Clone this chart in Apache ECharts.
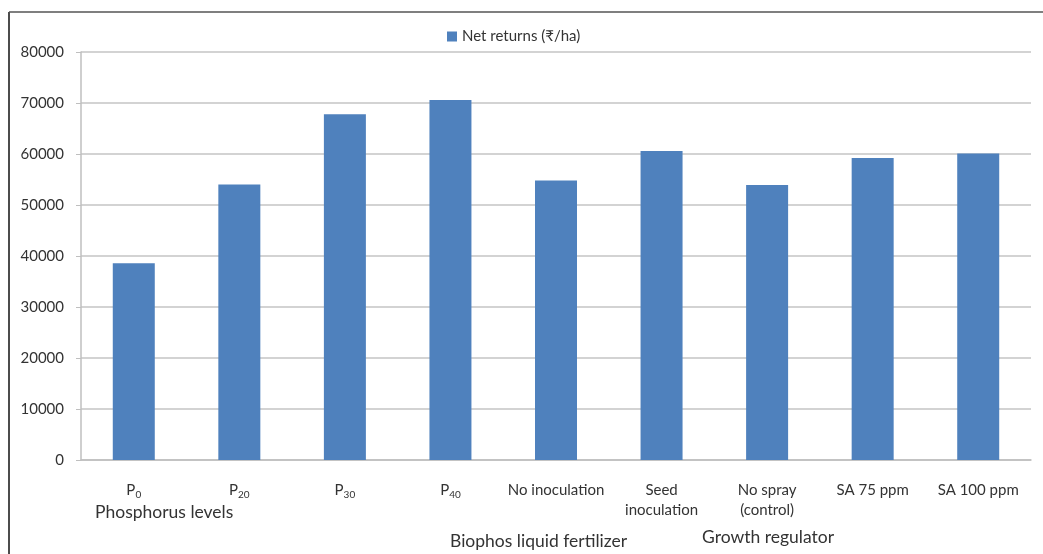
<!DOCTYPE html>
<html>
<head>
<meta charset="utf-8">
<style>
  html, body { margin: 0; padding: 0; background: #fff; }
  #chart { width: 1043px; height: 554px; }
</style>
<script src="https://cdn.jsdelivr.net/npm/echarts@6/dist/echarts.min.js"></script>
</head>
<body>
<div id="chart"></div>
<script>
// categories and values
var categories = ['P\u2080', 'P\u2082\u2080', 'P\u2083\u2080', 'P\u2084\u2080', 'No inoculation',
  'Seed\ninoculation', 'No spray\n(control)', 'SA 75 ppm', 'SA 100 ppm'];
var netReturns = [38600, 54000, 67800, 70600, 54800, 60600, 53900, 59200, 60100];
var groupLabels = ['Phosphorus levels', 'Biophos liquid fertilizer', 'Growth regulator'];
var seriesName = 'Net returns (\u20b9/ha)';

var myChart = echarts.init(document.getElementById('chart'));

var font = 'Lato, "Open Sans", sans-serif';
var subDigits = '\u2080\u2081\u2082\u2083\u2084\u2085\u2086\u2087\u2088\u2089';

// turn "P₂₀" into rich text so the subscript is drawn small and lowered
function catLabel(v) {
  var m = v.match(/^P([\u2080-\u2089]+)$/);
  if (!m) return v;
  var d = '';
  for (var i = 0; i < m[1].length; i++) d += subDigits.indexOf(m[1][i]);
  return '{p|P}{s|' + d + '}';
}

var option = {
  animation: false,
  textStyle: { fontFamily: font },
  legend: {
    data: [seriesName],
    left: 442,
    top: 24,
    icon: 'rect',
    itemWidth: 10,
    itemHeight: 10,
    itemGap: 5,
    textStyle: { fontFamily: font, fontSize: 15, color: '#333' }
  },
  grid: { left: 81, right: 12, top: 52, bottom: 94 },
  xAxis: {
    type: 'category',
    data: categories,
    axisLine: { lineStyle: { color: '#bfbfbf', width: 1.5 } },
    axisTick: { length: 5, lineStyle: { color: '#bfbfbf' } },
    axisLabel: {
      interval: 0,
      margin: 20,
      fontFamily: font,
      fontSize: 15,
      lineHeight: 20,
      color: '#333',
      formatter: catLabel,
      rich: {
        p: { fontFamily: font, fontSize: 15, lineHeight: 20, color: '#333' },
        s: { fontFamily: font, fontSize: 10, lineHeight: 13, verticalAlign: 'bottom', color: '#333' }
      }
    }
  },
  yAxis: {
    type: 'value',
    min: 0,
    max: 80000,
    interval: 10000,
    axisLine: { show: true, lineStyle: { color: '#bfbfbf', width: 1.5 } },
    axisTick: { show: true, length: 5, lineStyle: { color: '#bfbfbf' } },
    axisLabel: {
      margin: 17,
      fontFamily: font,
      fontSize: 15,
      color: '#333',
      formatter: function (v) { return String(v); }
    },
    splitLine: { lineStyle: { color: '#c4c4c4', width: 1.5 } }
  },
  series: [{
    name: seriesName,
    type: 'bar',
    data: netReturns,
    barWidth: 42,
    itemStyle: { color: '#4f81bd' }
  }],
  graphic: [
    // frame of the original figure
    { type: 'line', shape: { x1: 9, y1: 12, x2: 9, y2: 554 }, style: { stroke: '#111', lineWidth: 1.5 } },
    { type: 'line', shape: { x1: 9, y1: 12, x2: 1043, y2: 12 }, style: { stroke: '#555', lineWidth: 1.5 } },
    // group captions under the categories
    { type: 'text', left: 95, top: 503, style: { text: groupLabels[0], font: '17.5px ' + font, fill: '#333' } },
    { type: 'text', left: 450, top: 532, style: { text: groupLabels[1], font: '17.5px ' + font, fill: '#333' } },
    { type: 'text', left: 702, top: 528, style: { text: groupLabels[2], font: '17.5px ' + font, fill: '#333' } }
  ]
};

myChart.setOption(option);
</script>
</body>
</html>
